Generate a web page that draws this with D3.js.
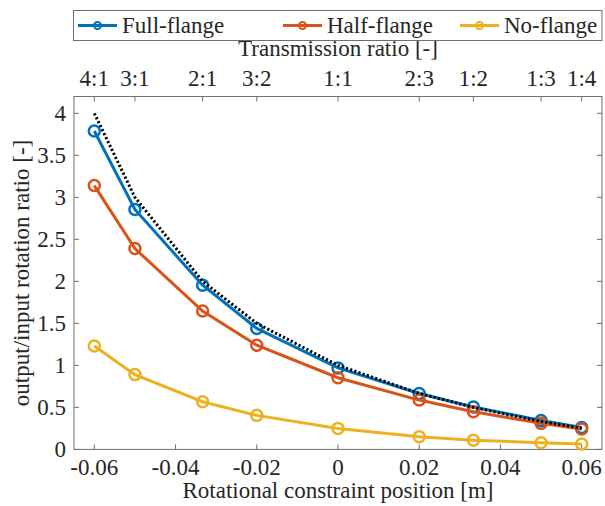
<!DOCTYPE html>
<html>
<head>
<meta charset="utf-8">
<script src="https://cdn.jsdelivr.net/npm/d3@7"></script>
</head>
<body style="margin:0; background:#fff">
<svg id="chart" width="605" height="506"></svg>
<script>
// constraint positions [m]
const positions = [-0.06, -0.05, -1 / 30, -0.02, 0, 0.02, 1 / 30, 0.05, 0.06];
const fullFlange = [3.79, 2.855, 1.955, 1.44, 0.97, 0.665, 0.505, 0.345, 0.26];
const halfFlange = [3.14, 2.39, 1.646, 1.24, 0.853, 0.587, 0.448, 0.31, 0.243];
const noFlange = [1.23, 0.89, 0.567, 0.405, 0.25, 0.15, 0.11, 0.08, 0.064];
// ideal transmission ratio (dotted)
const ideal = [4, 3, 2, 1.5, 1, 0.6667, 0.5, 0.3333, 0.25];

const xTicks = [-0.06, -0.04, -0.02, 0, 0.02, 0.04, 0.06];
const yTicks = [0, 0.5, 1, 1.5, 2, 2.5, 3, 3.5, 4];
const topTicks = positions;
const topLabels = ["4:1", "3:1", "2:1", "3:2", "1:1", "2:3", "1:2", "1:3", "1:4"];

const seriesNames = ["Full-flange", "Half-flange", "No-flange"];
const seriesColors = ["#0072BD", "#D95319", "#EDB120"];
const seriesData = [fullFlange, halfFlange, noFlange];

const svg = d3.select("#chart");
const pLeft = 74, pRight = 602, pTop = 96.5, pBottom = 449.4;
const axisColor = "#6e6e6e";
const fs = 23;
const fontFam = "'Liberation Serif'";
const textColor = "#262626";

const x = d3.scaleLinear().domain([-0.065, 0.065]).range([pLeft, pRight]);
const y = d3.scaleLinear().domain([0, 4.2]).range([pBottom, pTop]);

function label(px, py, str, anchor) {
    return svg.append("text")
        .attr("x", px).attr("y", py)
        .attr("text-anchor", anchor)
        .style("font-family", fontFam)
        .style("font-size", fs + "px")
        .style("fill", textColor)
        .text(str);
}

// box
svg.append("rect")
    .attr("x", pLeft).attr("y", pTop)
    .attr("width", pRight - pLeft).attr("height", pBottom - pTop)
    .style("fill", "none").style("stroke", axisColor).style("stroke-width", 1);

// bottom ticks
xTicks.forEach(t => {
    svg.append("line")
        .attr("x1", x(t)).attr("x2", x(t))
        .attr("y1", pBottom).attr("y2", pBottom - 5)
        .style("stroke", axisColor);
    label(x(t), 475, t === 0 ? "0" : t.toFixed(2), "middle");
});

// left + right ticks
yTicks.forEach(t => {
    svg.append("line")
        .attr("x1", pLeft).attr("x2", pLeft + 5)
        .attr("y1", y(t)).attr("y2", y(t))
        .style("stroke", axisColor);
    svg.append("line")
        .attr("x1", pRight).attr("x2", pRight - 5)
        .attr("y1", y(t)).attr("y2", y(t))
        .style("stroke", axisColor);
    label(66, y(t) + 7.5, String(t), "end");
});

// top ticks (transmission ratio)
topTicks.forEach((t, i) => {
    svg.append("line")
        .attr("x1", x(t)).attr("x2", x(t))
        .attr("y1", pTop).attr("y2", pTop + 5)
        .style("stroke", axisColor);
    label(x(t), 86, topLabels[i], "middle");
});

// axis titles
label((pLeft + pRight) / 2, 498, "Rotational constraint position [m]", "middle");
label((pLeft + pRight) / 2, 56, "Transmission ratio [-]", "middle");
label(0, 0, "output/input rotation ratio [-]", "middle")
    .attr("transform", "translate(29," + ((pTop + pBottom) / 2) + ") rotate(-90)");

const line = d3.line()
    .x(d => x(d[0]))
    .y(d => y(d[1]));

seriesData.forEach((vals, k) => {
    const pts = positions.map((p, i) => [p, vals[i]]);
    svg.append("path")
        .attr("d", line(pts))
        .style("fill", "none")
        .style("stroke", seriesColors[k])
        .style("stroke-width", 3);
    svg.selectAll(".m" + k)
        .data(pts)
        .enter()
        .append("circle")
        .attr("cx", d => x(d[0]))
        .attr("cy", d => y(d[1]))
        .attr("r", 5.5)
        .style("fill", "none")
        .style("stroke", seriesColors[k])
        .style("stroke-width", 2.5);
});

// ideal ratio, dotted
svg.append("path")
    .attr("d", line(positions.map((p, i) => [p, ideal[i]])))
    .style("fill", "none")
    .style("stroke", "#000")
    .style("stroke-width", 3)
    .style("stroke-dasharray", "2.2,2.2");

// legend
svg.append("rect")
    .attr("x", 73.5).attr("y", 10.5)
    .attr("width", 528.5).attr("height", 30)
    .style("fill", "#fff").style("stroke", axisColor).style("stroke-width", 1);
const legendX = [78, 283, 460];
seriesNames.forEach((name, k) => {
    const lx = legendX[k];
    svg.append("line")
        .attr("x1", lx).attr("x2", lx + 39)
        .attr("y1", 25.5).attr("y2", 25.5)
        .style("stroke", seriesColors[k])
        .style("stroke-width", 3);
    svg.append("circle")
        .attr("cx", lx + 19.5).attr("cy", 25.5)
        .attr("r", 3.5)
        .style("fill", "none")
        .style("stroke", seriesColors[k])
        .style("stroke-width", 2);
    label(lx + 44, 33, name, "start");
});
</script>
</body>
</html>
